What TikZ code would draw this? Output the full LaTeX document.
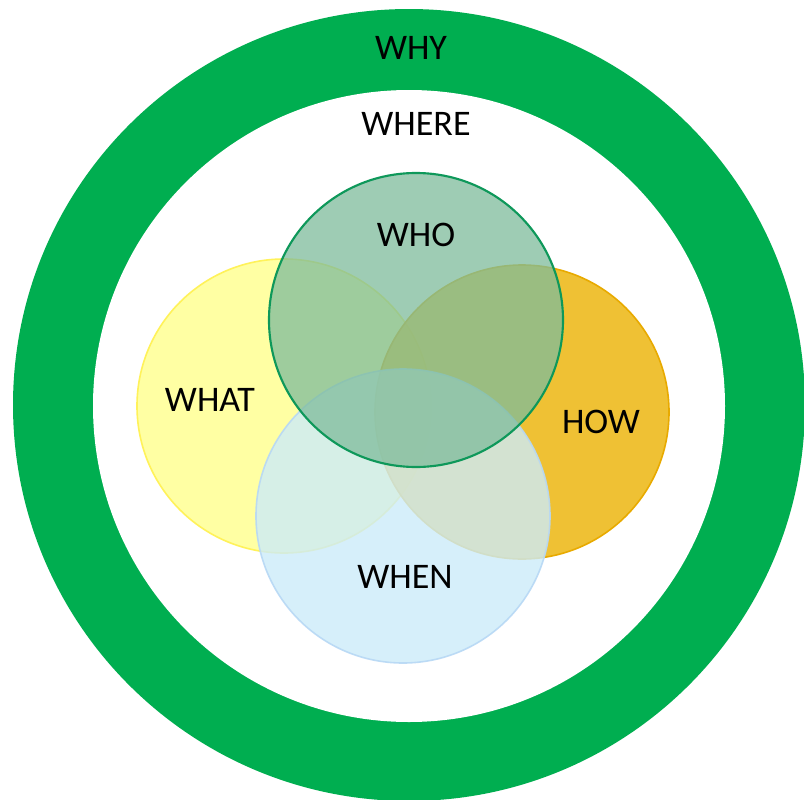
\documentclass[tikz,border=0pt]{standalone}
\usepackage{fontspec}
\setmainfont{Carlito}
\definecolor{ringgreen}{RGB}{0,174,80}
\definecolor{whatfill}{RGB}{255,255,163}
\definecolor{whatline}{RGB}{255,242,90}
\definecolor{howfill}{RGB}{237,183,17}
\definecolor{howline}{RGB}{232,170,0}
\definecolor{whenfill}{RGB}{204,235,249}
\definecolor{whenline}{RGB}{183,216,245}
\definecolor{whofill}{RGB}{126,188,156}
\definecolor{wholine}{RGB}{14,152,90}
\tikzset{
  lbl/.style={inner sep=0pt, anchor=center, font=\fontsize{27}{32}\selectfont, text=black},
  venn/.style={circle, minimum size=220.5pt, inner sep=0pt, line width=1.2pt}
}
\begin{document}
\begin{tikzpicture}[x=0.75pt,y=-0.75pt]
\useasboundingbox (0,0) rectangle (804,800);
\fill[white] (0,0) rectangle (804,800);
% outer ring
\fill[ringgreen] (409,405) circle[radius=396];
\fill[white] (409,406) circle[radius=316];
% venn circles
\node[venn, draw=whatline, fill=whatfill] (what) at (284,406) {};
\node[venn, draw=howline, fill=howfill, fill opacity=0.85] (how) at (522,412) {};
\node[venn, draw=whenline, fill=whenfill, fill opacity=0.8, draw opacity=0.9] (when) at (403,516) {};
\node[venn, draw=wholine, fill=whofill, fill opacity=0.75, line width=1.6pt] (who) at (416,320) {};
% labels
\node[lbl] (why) at (411,48) {WHY};
\node[lbl] (where) at (416,124) {WHERE};
\node[lbl] (wholbl) at (416,235) {WHO};
\node[lbl] (whatlbl) at (210,400) {WHAT};
\node[lbl] (howlbl) at (601,422) {HOW};
\node[lbl] (whenlbl) at (405,577) {WHEN};
\end{tikzpicture}
\end{document}
